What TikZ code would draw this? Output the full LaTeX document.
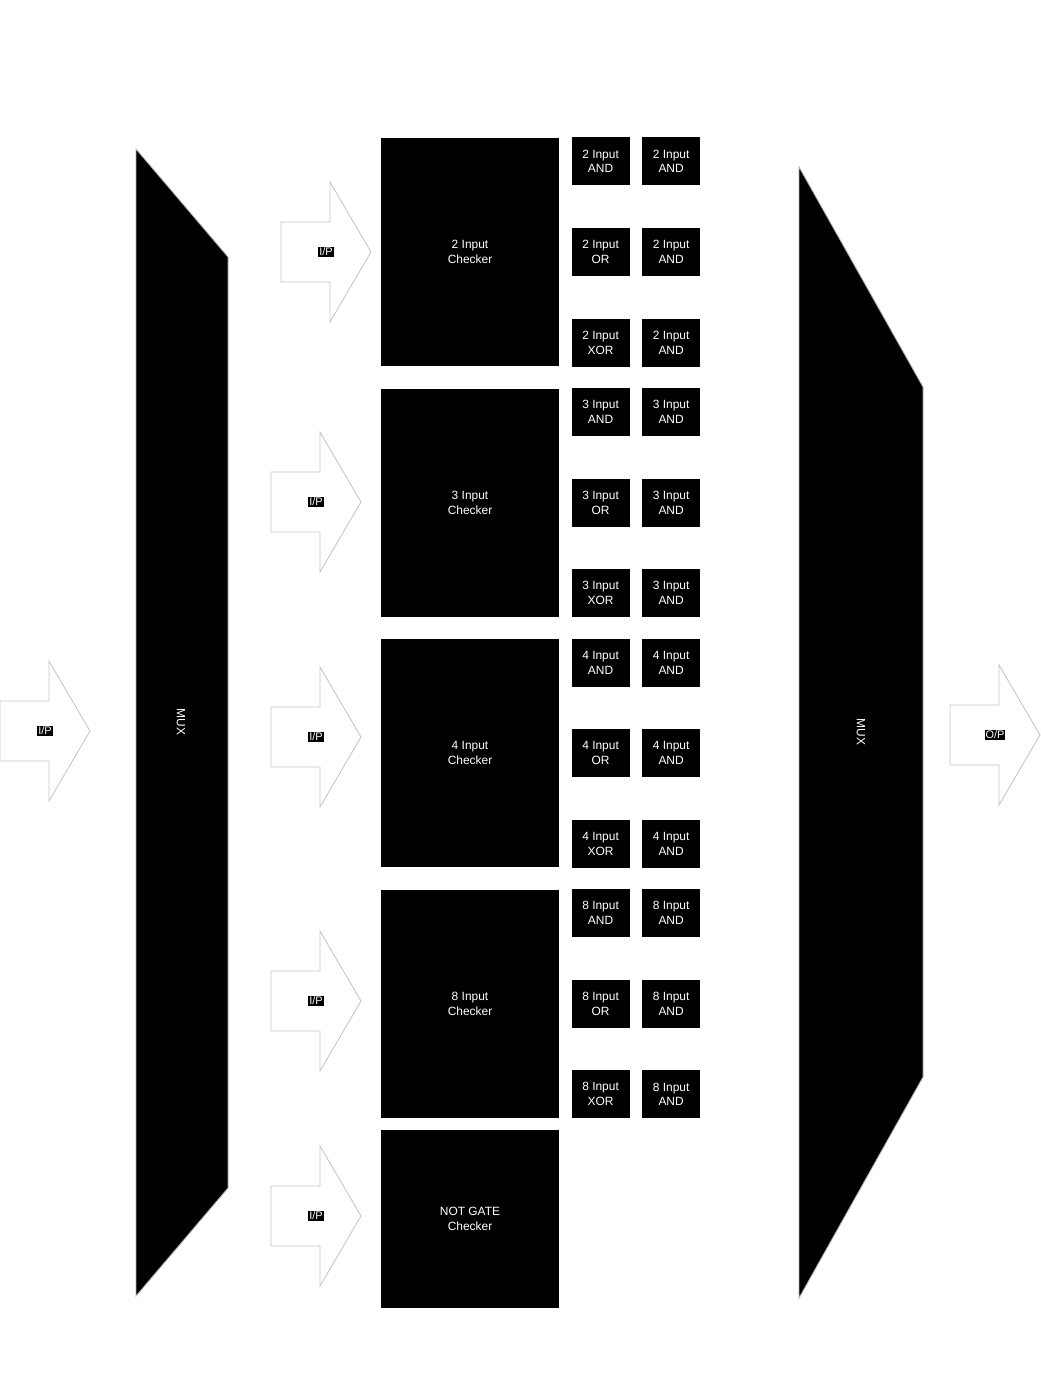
\documentclass[tikz,border=0pt]{standalone}
\usepackage{fontspec}
\setmainfont{Liberation Sans}
\usetikzlibrary{positioning}

\begin{document}
\begin{tikzpicture}[
    checker/.style={rectangle, fill=black, text=white, minimum width=4.45cm, minimum height=5.7cm, align=center, font=\fontsize{8.5}{10.5}\selectfont},
    gate/.style={rectangle, fill=black, text=white, minimum width=1.45cm, minimum height=1.2cm, inner sep=0pt, align=center, font=\fontsize{8.5}{10.5}\selectfont},
    muxbody/.style={fill=black, draw=gray!60, line width=0.6pt},
    iparr/.style={fill=white, draw=gray!45, line width=0.6pt},
    tag/.style={fill=black, text=white, inner sep=0.7pt, font=\fontsize{7.8}{9}\selectfont},
    muxtext/.style={text=white, rotate=-90, font=\fontsize{8.5}{10}\selectfont},
    node distance=0.55cm
]
\useasboundingbox (0,0) rectangle (26,-34.85);

% the two multiplexers
\draw[muxbody] (3.4,-3.725) -- (5.7,-6.425) -- (5.7,-29.7) -- (3.4,-32.4) -- cycle;
\draw[muxbody] (19.975,-4.175) -- (23.075,-9.675) -- (23.075,-26.925) -- (19.975,-32.45) -- cycle;
\node[muxtext] (muxin) at (4.525,-18.05) {MUX};
\node[muxtext] (muxout) at (21.525,-18.3) {MUX};

% checkers
\node[checker] (chk2) at (11.75,-6.3) {2 Input\\Checker};
\node[checker, below=of chk2] (chk3) {3 Input\\Checker};
\node[checker, below=of chk3] (chk4) {4 Input\\Checker};
\node[checker, below=of chk4] (chk8) {8 Input\\Checker};
\node[checker, minimum height=4.45cm, below=0.3cm of chk8] (chknot) {NOT GATE\\Checker};

% gates, 2 input
\node[gate, right=0.3cm of chk2] (or2) {2 Input\\OR};
\node[gate, above=1.05cm of or2] (and2) {2 Input\\AND};
\node[gate, below=1.05cm of or2] (xor2) {2 Input\\XOR};
\node[gate, right=0.3cm of and2] (andA2) {2 Input\\AND};
\node[gate, right=0.3cm of or2] (andB2) {2 Input\\AND};
\node[gate, right=0.3cm of xor2] (andC2) {2 Input\\AND};

% gates, 3 input
\node[gate, right=0.3cm of chk3] (or3) {3 Input\\OR};
\node[gate, above=1.05cm of or3] (and3) {3 Input\\AND};
\node[gate, below=1.05cm of or3] (xor3) {3 Input\\XOR};
\node[gate, right=0.3cm of and3] (andA3) {3 Input\\AND};
\node[gate, right=0.3cm of or3] (andB3) {3 Input\\AND};
\node[gate, right=0.3cm of xor3] (andC3) {3 Input\\AND};

% gates, 4 input
\node[gate, right=0.3cm of chk4] (or4) {4 Input\\OR};
\node[gate, above=1.05cm of or4] (and4) {4 Input\\AND};
\node[gate, below=1.05cm of or4] (xor4) {4 Input\\XOR};
\node[gate, right=0.3cm of and4] (andA4) {4 Input\\AND};
\node[gate, right=0.3cm of or4] (andB4) {4 Input\\AND};
\node[gate, right=0.3cm of xor4] (andC4) {4 Input\\AND};

% gates, 8 input
\node[gate, right=0.3cm of chk8] (or8) {8 Input\\OR};
\node[gate, above=1.05cm of or8] (and8) {8 Input\\AND};
\node[gate, below=1.05cm of or8] (xor8) {8 Input\\XOR};
\node[gate, right=0.3cm of and8] (andA8) {8 Input\\AND};
\node[gate, right=0.3cm of or8] (andB8) {8 Input\\AND};
\node[gate, right=0.3cm of xor8] (andC8) {8 Input\\AND};

% block arrows
\draw[iparr] (0,-17.525) -- ++(1.225,0) -- ++(0,1) -- ++(1.025,-1.75) -- ++(-1.025,-1.75) -- ++(0,1) -- ++(-1.225,0) -- cycle;
\draw[iparr] (7.025,-5.55) -- ++(1.225,0) -- ++(0,1) -- ++(1.025,-1.75) -- ++(-1.025,-1.75) -- ++(0,1) -- ++(-1.225,0) -- cycle;
\draw[iparr] (6.775,-11.8) -- ++(1.225,0) -- ++(0,1) -- ++(1.025,-1.75) -- ++(-1.025,-1.75) -- ++(0,1) -- ++(-1.225,0) -- cycle;
\draw[iparr] (6.775,-17.675) -- ++(1.225,0) -- ++(0,1) -- ++(1.025,-1.75) -- ++(-1.025,-1.75) -- ++(0,1) -- ++(-1.225,0) -- cycle;
\draw[iparr] (6.775,-24.275) -- ++(1.225,0) -- ++(0,1) -- ++(1.025,-1.75) -- ++(-1.025,-1.75) -- ++(0,1) -- ++(-1.225,0) -- cycle;
\draw[iparr] (6.775,-29.65) -- ++(1.225,0) -- ++(0,1) -- ++(1.025,-1.75) -- ++(-1.025,-1.75) -- ++(0,1) -- ++(-1.225,0) -- cycle;
\draw[iparr] (23.75,-17.625) -- ++(1.225,0) -- ++(0,1) -- ++(1.025,-1.75) -- ++(-1.025,-1.75) -- ++(0,1) -- ++(-1.225,0) -- cycle;

\node[tag] (ipmain) at (1.125,-18.275) {I/P};
\node[tag] (ip2) at (8.15,-6.3) {I/P};
\node[tag] (ip3) at (7.9,-12.55) {I/P};
\node[tag] (ip4) at (7.9,-18.425) {I/P};
\node[tag] (ip8) at (7.9,-25.025) {I/P};
\node[tag] (ipnot) at (7.9,-30.4) {I/P};
\node[tag] (opmain) at (24.875,-18.375) {O/P};
\end{tikzpicture}
\end{document}
